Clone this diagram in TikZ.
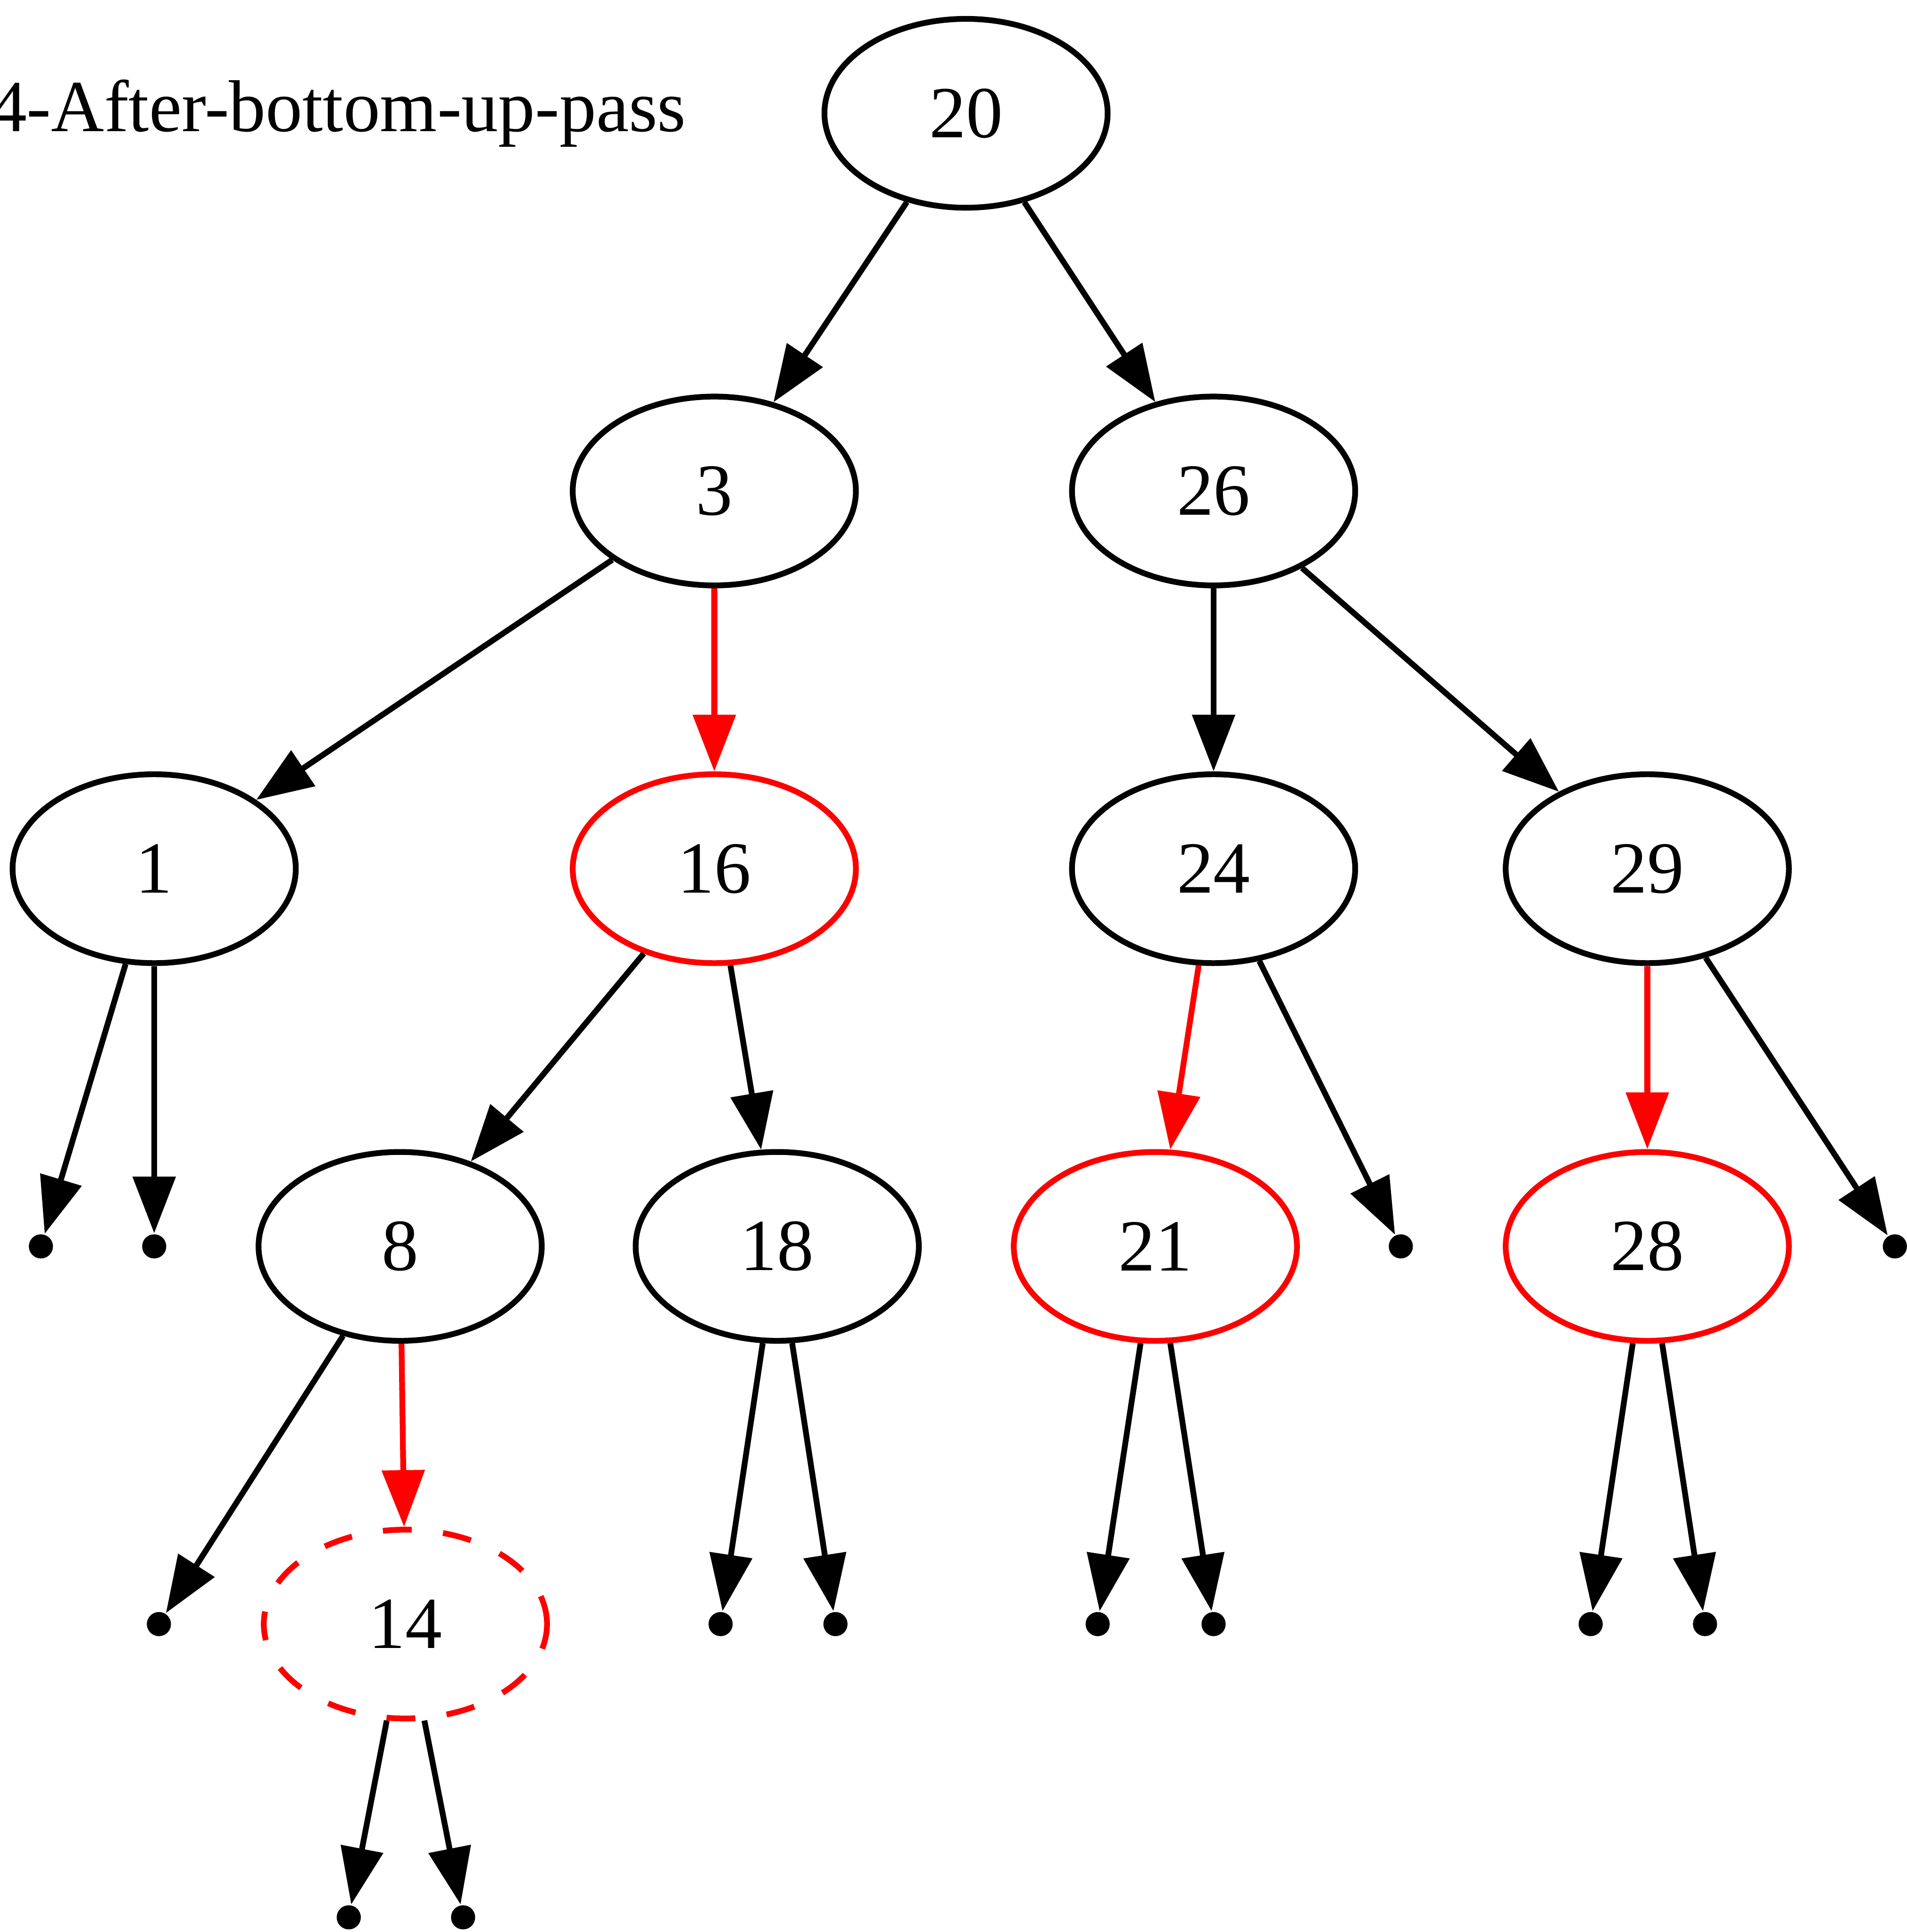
\documentclass[tikz,border=0pt]{standalone}
\usepackage{fontspec}
\setmainfont{Liberation Serif}
\usetikzlibrary{arrows.meta,shapes.geometric}

\tikzset{
  bnode/.style={draw,ellipse,minimum width=54pt,minimum height=36pt,inner sep=0pt,line width=1.1pt,font=\fontsize{14}{16}\selectfont},
  rnode/.style={bnode,red,text=black},
  nil/.style={circle,fill,inner sep=0pt,minimum size=4.6pt},
  tedge/.style={-{Triangle[length=10.8pt,width=8pt]},line width=1.1pt},
  redge/.style={tedge,red}
}

\begin{document}
\begin{tikzpicture}[x=1pt,y=-1pt]
\useasboundingbox (0,0) rectangle (363.6,368.3);
\node[anchor=east,inner sep=0pt,font=\fontsize{14}{16}\selectfont] (title) at (131,21.6){4-After-bottom-up-pass};
% tree nodes
\node[bnode] (n20) at (184.2,21.6){20};
\node[bnode] (n3) at (136.2,93.6){3};
\node[bnode] (n26) at (231.4,93.6){26};
\node[bnode] (n1) at (29.4,165.6){1};
\node[rnode] (n16) at (136.2,165.6){16};
\node[bnode] (n24) at (231.4,165.6){24};
\node[bnode] (n29) at (314.1,165.6){29};
\node[bnode] (n8) at (76.3,237.6){8};
\node[bnode] (n18) at (148.2,237.6){18};
\node[rnode] (n21) at (220.3,237.6){21};
\node[rnode] (n28) at (314.1,237.6){28};
\node[rnode,dash pattern=on 5.5pt off 6pt] (n14) at (77.3,309.6){14};
% nil leaves
\foreach \n/\x/\y in {l1a/7.8/237.6,l1b/29.4/237.6,l24/267.1/237.6,l29/361.3/237.6,
  l8/30.3/309.6,l18a/137.4/309.6,l18b/159.3/309.6,l21a/209.3/309.6,l21b/231.4/309.6,
  l28a/303.3/309.6,l28b/325.1/309.6,l14a/66.5/365.5,l14b/88.3/365.5}
  {\node[nil] (\n) at (\x,\y){};}
% edges
\foreach \a/\b in {n20/n3,n20/n26,n3/n1,n26/n24,n26/n29,n1/l1a,n1/l1b,n16/n8,n16/n18,
  n24/l24,n29/l29,n8/l8,n18/l18a,n18/l18b,n21/l21a,n21/l21b,n28/l28a,n28/l28b,n14/l14a,n14/l14b}
  {\draw[tedge] (\a)--(\b);}
\foreach \a/\b in {n3/n16,n8/n14,n24/n21,n29/n28}
  {\draw[redge] (\a)--(\b);}
\end{tikzpicture}
\end{document}
